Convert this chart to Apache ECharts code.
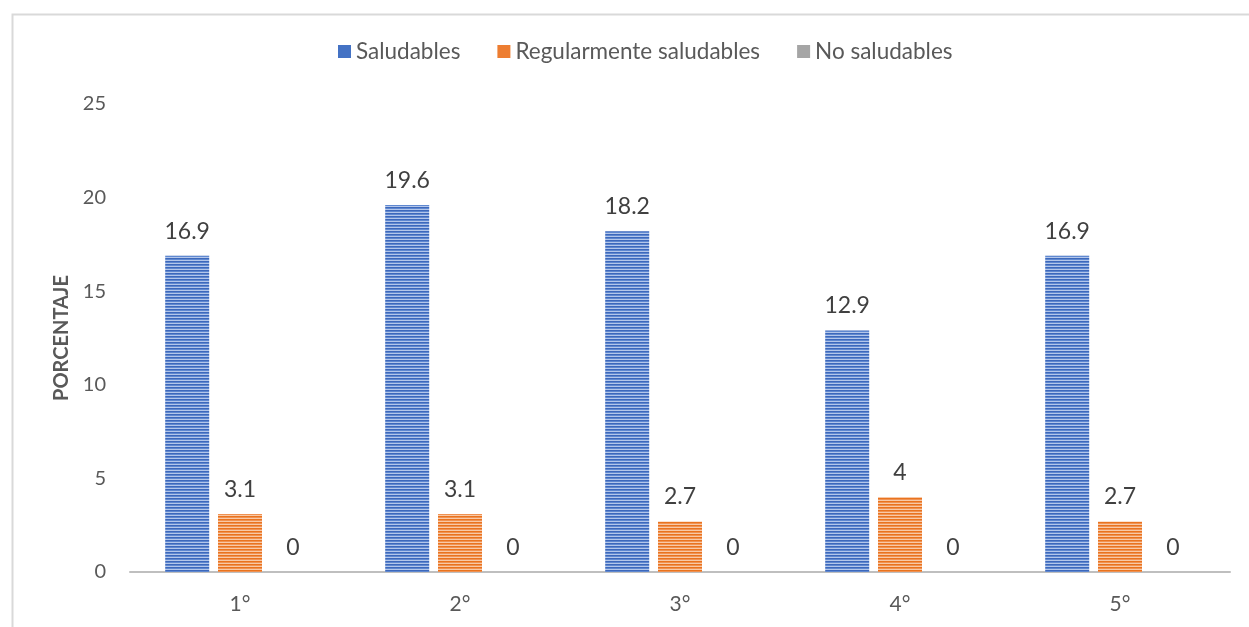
<!DOCTYPE html>
<html>
<head>
<meta charset="utf-8">
<script src="https://cdn.jsdelivr.net/npm/echarts@6/dist/echarts.min.js"></script>
<style>
  html, body { margin: 0; padding: 0; background: #fff; }
  #chart { width: 1249px; height: 627px; }
</style>
</head>
<body>
<div id="chart"></div>
<script>
// Grades and percentages per category of snack
const categories = ['1°', '2°', '3°', '4°', '5°'];
const saludables = [16.9, 19.6, 18.2, 12.9, 16.9];
const regularmente = [3.1, 3.1, 2.7, 4, 2.7];
const noSaludables = [0, 0, 0, 0, 0];
const seriesNames = ['Saludables', 'Regularmente saludables', 'No saludables'];
const baseColors = ['#4472C4', '#ED7D31', '#A5A5A5'];

// Horizontal striped fill used inside the bars
function stripes(dark, mid, light) {
  const c = document.createElement('canvas');
  c.width = 4; c.height = 3;
  const ctx = c.getContext('2d');
  ctx.fillStyle = dark;  ctx.fillRect(0, 0, 4, 1);
  ctx.fillStyle = mid;   ctx.fillRect(0, 1, 4, 1);
  ctx.fillStyle = light; ctx.fillRect(0, 2, 4, 1);
  return { image: c, repeat: 'repeat' };
}
const fills = [
  stripes('#3D68BB', '#5F88D0', '#B3C6EA'),
  stripes('#E9731F', '#F09252', '#F8C9A7'),
  stripes('#999999', '#B0B0B0', '#DADADA')
];

const FONT = 'Lato, "Noto Sans", sans-serif';
const chart = echarts.init(document.getElementById('chart'), null, { renderer: 'canvas' });

function barSeries(name, data, idx) {
  return {
    name: name,
    type: 'bar',
    data: data,
    barWidth: 44,
    barGap: '20%',
    itemStyle: { color: fills[idx] },
    label: {
      show: true,
      position: 'top',
      distance: 13,
      fontFamily: FONT,
      fontSize: 23,
      color: '#404040'
    }
  };
}

chart.setOption({
  backgroundColor: '#ffffff',
  animation: false,
  graphic: [{
    type: 'rect',
    shape: { x: 12.5, y: 14.5, width: 1260, height: 640 },
    style: { fill: 'none', stroke: '#D9D9D9', lineWidth: 2 },
    silent: true
  }],
  legend: {
    top: 35,
    left: 333,
    itemWidth: 13,
    itemHeight: 13,
    itemGap: 37,
    icon: 'rect',
    textStyle: { fontFamily: FONT, fontSize: 22.5, color: '#595959' },
    data: seriesNames.map((n, i) => ({ name: n, itemStyle: { color: baseColors[i] } }))
  },
  grid: { left: 130, right: 19, top: 104, bottom: 55 },
  xAxis: {
    type: 'category',
    data: categories,
    axisLine: { lineStyle: { color: '#BFBFBF', width: 2 } },
    axisTick: { show: false },
    axisLabel: { fontFamily: FONT, fontSize: 21, color: '#595959', margin: 22 }
  },
  yAxis: {
    type: 'value',
    min: 0,
    max: 25,
    interval: 5,
    name: 'PORCENTAJE',
    nameLocation: 'middle',
    nameGap: 58,
    nameRotate: 90,
    nameTextStyle: { fontFamily: FONT, fontSize: 20, fontWeight: 'bold', color: '#595959' },
    axisLine: { show: false },
    axisTick: { show: false },
    splitLine: { show: false },
    axisLabel: { fontFamily: FONT, fontSize: 20, color: '#595959', margin: 24 }
  },
  series: [
    barSeries(seriesNames[0], saludables, 0),
    barSeries(seriesNames[1], regularmente, 1),
    barSeries(seriesNames[2], noSaludables, 2)
  ]
});
</script>
</body>
</html>
